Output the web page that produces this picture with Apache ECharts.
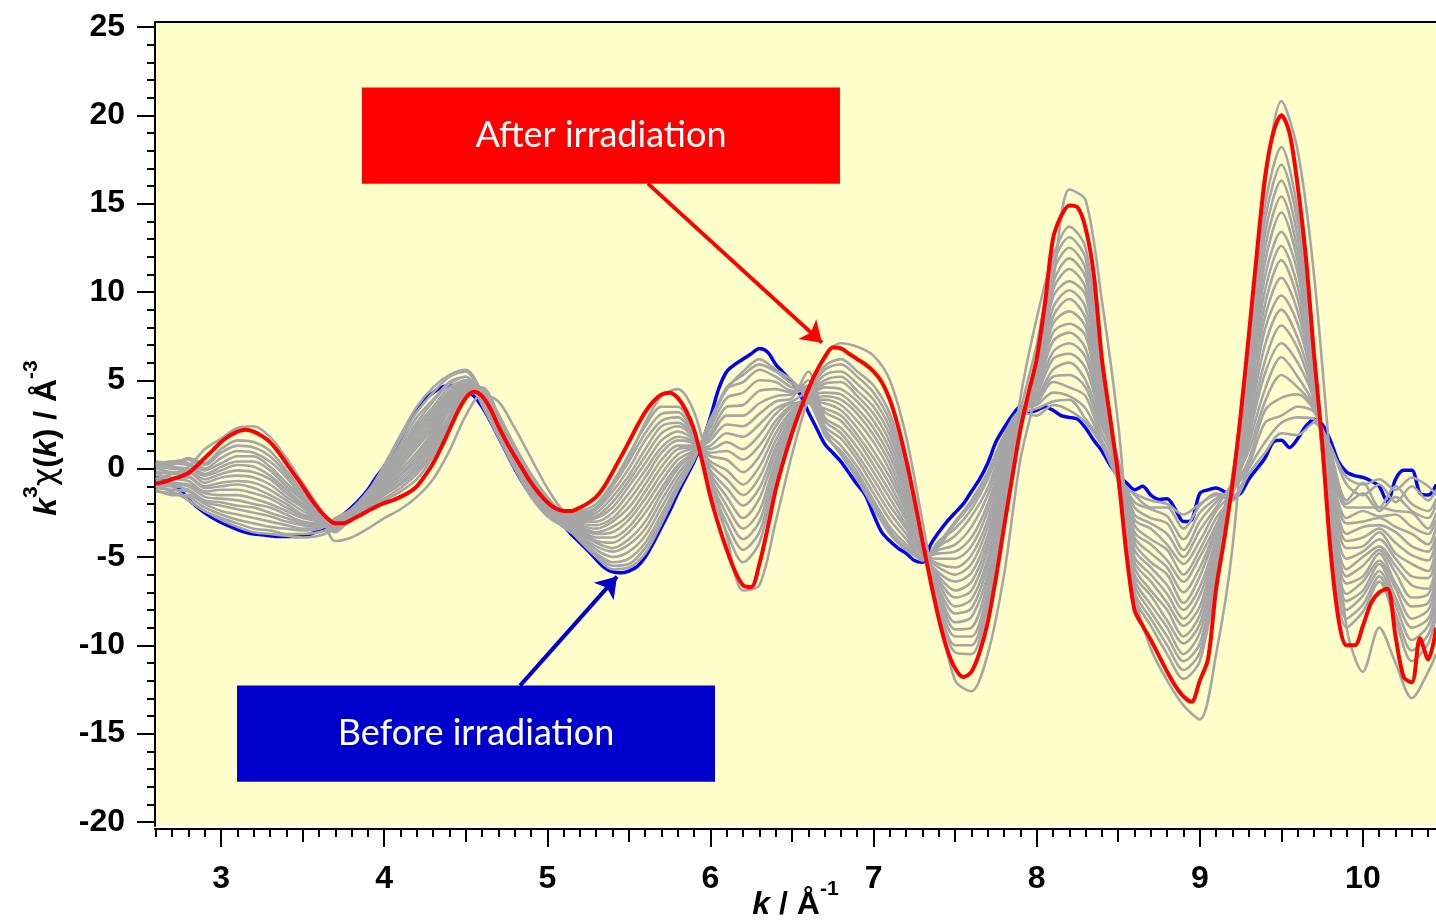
<!DOCTYPE html>
<html>
<head>
<meta charset="utf-8">
<script src="https://cdn.jsdelivr.net/npm/echarts@6/dist/echarts.min.js"></script>
<style>
  html, body { margin: 0; padding: 0; background: #fff; }
  #chart { width: 1436px; height: 921px; }
</style>
</head>
<body>
<div id="chart"></div>
<script>
// k grid used for the two highlighted spectra
const kLine = [
  2.60, 2.65, 2.70, 2.75, 2.80, 2.85, 2.90, 2.95, 3.00, 3.05,
  3.10, 3.15, 3.20, 3.25, 3.30, 3.35, 3.40, 3.45, 3.50, 3.55,
  3.60, 3.65, 3.70, 3.75, 3.80, 3.85, 3.90, 3.95, 4.00, 4.05,
  4.10, 4.15, 4.20, 4.25, 4.30, 4.35, 4.40, 4.45, 4.50, 4.55,
  4.60, 4.65, 4.70, 4.75, 4.80, 4.85, 4.90, 4.95, 5.00, 5.05,
  5.10, 5.15, 5.20, 5.25, 5.30, 5.35, 5.40, 5.45, 5.50, 5.55,
  5.60, 5.65, 5.70, 5.75, 5.80, 5.85, 5.90, 5.95, 6.00, 6.05,
  6.10, 6.15, 6.20, 6.25, 6.30, 6.35, 6.40, 6.45, 6.50, 6.55,
  6.60, 6.65, 6.70, 6.75, 6.80, 6.85, 6.90, 6.95, 7.00, 7.05,
  7.10, 7.15, 7.20, 7.25, 7.30, 7.35, 7.40, 7.45, 7.50, 7.55,
  7.60, 7.65, 7.70, 7.75, 7.80, 7.85, 7.90, 7.95, 8.00, 8.05,
  8.10, 8.15, 8.20, 8.25, 8.30, 8.35, 8.40, 8.45, 8.50, 8.55,
  8.60, 8.65, 8.70, 8.75, 8.80, 8.85, 8.90, 8.95, 9.00, 9.05,
  9.10, 9.15, 9.20, 9.25, 9.30, 9.35, 9.40, 9.45, 9.50, 9.55,
  9.60, 9.65, 9.70, 9.75, 9.80, 9.85, 9.90, 9.95, 10.00, 10.05,
  10.10, 10.15, 10.20, 10.25, 10.30, 10.35, 10.40, 10.45
];

// before irradiation (blue)
const beforeIrr = [
  -0.5, -0.65, -0.85, -1.2, -1.75, -2.15, -2.5, -2.8, -3.05, -3.25,
  -3.45, -3.6, -3.7, -3.75, -3.8, -3.85, -3.85, -3.85, -3.8, -3.7,
  -3.5, -3.25, -2.95, -2.6, -2.2, -1.75, -1.2, -0.5, 0.1, 0.8,
  1.7, 2.6, 3.3, 3.9, 4.3, 4.6, 4.7, 4.7, 4.5, 4.1,
  3.5, 2.7, 1.8, 0.9, 0.0, -0.8, -1.5, -2.1, -2.6, -2.95,
  -3.25, -3.75, -4.2, -4.65, -5.15, -5.6, -5.85, -5.9, -5.8, -5.55,
  -5.0, -4.2, -3.3, -2.4, -1.4, -0.5, 0.4, 1.5, 2.9, 4.5,
  5.5, 5.9, 6.2, 6.5, 6.8, 6.6, 5.9, 5.4, 4.9, 4.2,
  3.2, 2.3, 1.4, 0.9, 0.4, -0.25, -0.9, -1.5, -2.6, -3.6,
  -4.1, -4.5, -4.8, -5.2, -5.3, -4.3, -3.6, -3.0, -2.5, -2.0,
  -1.3, -0.6, 0.3, 1.5, 2.3, 3.0, 3.5, 3.2, 3.3, 3.5,
  3.3, 3.0, 2.9, 2.8, 2.3, 1.6, 1.0, 0.2, -0.4, -0.8,
  -1.2, -1.0, -1.5, -1.75, -1.7, -2.3, -3.0, -2.9, -1.4, -1.2,
  -1.1, -1.3, -1.6, -1.4, -0.6, 0.0, 0.6, 1.5, 1.6, 1.2,
  1.7, 2.4, 2.8, 2.5, 1.6, 0.4, -0.2, -0.4, -0.5, -0.7,
  -1.0, -1.9, -0.6, -0.1, -0.1, -1.4, -1.5, -0.9
];

// after irradiation (red)
const afterIrr = [
  -0.85, -0.75, -0.6, -0.45, -0.25, 0.15, 0.6, 1.05, 1.5, 1.85,
  2.1, 2.2, 2.1, 1.85, 1.5, 0.95, 0.3, -0.35, -1.0, -1.7,
  -2.3, -2.8, -3.1, -3.1, -2.9, -2.65, -2.4, -2.15, -1.95, -1.8,
  -1.6, -1.35, -1.0, -0.4, 0.3, 1.2, 2.2, 3.2, 4.0, 4.35,
  4.1, 3.4, 2.4, 1.5, 0.7, -0.05, -0.8, -1.4, -1.9, -2.25,
  -2.4, -2.4, -2.2, -1.95, -1.6, -1.0, -0.2, 0.65, 1.5, 2.4,
  3.2, 3.8, 4.2, 4.3, 4.0, 3.3, 2.2, 0.4, -1.6, -3.2,
  -4.6, -5.8, -6.6, -6.7, -5.4, -3.4, -1.2, 0.5, 2.0, 3.3,
  4.5, 5.5, 6.3, 6.85, 6.8, 6.5, 6.2, 5.9, 5.5, 4.9,
  3.9, 2.4, 0.5, -1.7, -4.1, -6.4, -8.5, -10.2, -11.3, -11.8,
  -11.5, -10.4, -8.7, -6.2, -3.3, -0.5, 2.2, 4.3, 6.2, 9.3,
  13.0, 14.3, 14.9, 14.8, 13.6, 11.0, 6.2, 2.9, -0.4, -4.8,
  -8.0, -8.9, -9.7, -10.6, -11.5, -12.3, -12.9, -13.2, -12.0, -10.8,
  -6.8, -4.0, -0.9, 3.0, 7.5, 12.2, 16.5, 19.0, 20.0, 19.0,
  16.0, 12.0, 6.5, 1.5, -4.5, -8.5, -10.0, -10.0, -8.9, -7.6,
  -7.0, -6.8, -9.5, -11.8, -12.1, -9.6, -10.8, -9.0
];

// k grid for the intermediate (grey) spectra
const kGray = [
  2.6, 2.7, 2.8, 2.9, 3.0, 3.1, 3.2, 3.3, 3.4, 3.5,
  3.6, 3.7, 3.8, 3.9, 4.0, 4.1, 4.2, 4.3, 4.4, 4.5,
  4.6, 4.7, 4.8, 4.9, 5.0, 5.1, 5.2, 5.3, 5.4, 5.5,
  5.6, 5.7, 5.8, 5.9, 6.0, 6.1, 6.2, 6.3, 6.4, 6.5,
  6.6, 6.7, 6.8, 6.9, 7.0, 7.1, 7.2, 7.3, 7.4, 7.5,
  7.6, 7.7, 7.8, 7.9, 8.0, 8.1, 8.2, 8.3, 8.4, 8.5,
  8.6, 8.7, 8.8, 8.9, 9.0, 9.1, 9.2, 9.3, 9.4, 9.5,
  9.6, 9.7, 9.8, 9.9, 10.0, 10.1, 10.2, 10.3, 10.4, 10.45
];

const gray00 = [
  -0.7, -1.0, -1.8, -2.4, -2.9, -3.3, -3.6, -3.7, -3.8, -3.9,
  -3.8, -3.4, -2.5, -1.4, 0.2, 1.9, 3.5, 4.6, 5.3, 5.6,
  4.3, 2.3, 0.3, -1.2, -2.4, -3.1, -4.1, -5.0, -5.7, -5.6,
  -4.8, -3.1, -1.2, 0.5, 2.8, 4.5, 5.5, 6.2, 5.6, 5.0,
  3.9, 2.0, 0.8, -0.6, -2.2, -3.7, -4.6, -5.1, -4.2, -3.0,
  -1.8, -0.2, 1.9, 3.2, 3.0, 3.6, 3.3, 2.6, 1.3, -0.6,
  -1.4, -1.8, -2.0, -2.6, -2.0, -1.5, -1.8, -0.3, 0.9, 2.0,
  1.9, 2.6, 1.2, -0.5, -0.9, -0.6, -1.2, -0.5, -1.0, -1.5
];
const gray01 = [
  -1.0, -1.3, -1.8, -2.4, -2.8, -3.1, -3.4, -3.5, -3.7, -3.7,
  -3.6, -3.3, -2.4, -1.3, 0.1, 1.7, 3.2, 4.3, 5.2, 5.5,
  4.0, 2.1, 0.1, -1.4, -2.6, -3.2, -4.0, -4.9, -5.5, -5.4,
  -4.5, -2.9, -1.0, 0.5, 2.7, 4.6, 5.3, 5.9, 5.5, 4.8,
  4.2, 2.1, 0.8, -0.4, -2.0, -3.5, -4.5, -5.0, -4.4, -3.1,
  -2.0, -0.5, 1.8, 3.1, 3.4, 3.8, 3.9, 2.8, 1.5, -0.5,
  -1.5, -2.2, -2.2, -3.4, -2.1, -1.4, -1.6, 0.0, 1.5, 2.6,
  2.9, 2.8, 1.3, -0.9, -1.5, -0.9, -1.9, -1.0, -1.8, -1.2
];
const gray02 = [
  -1.3, -1.4, -1.6, -2.2, -2.6, -2.9, -3.1, -3.3, -3.4, -3.5,
  -3.4, -3.0, -2.3, -1.3, -0.1, 1.4, 2.9, 3.9, 4.9, 5.2,
  3.6, 1.8, 0.0, -1.6, -2.7, -3.3, -4.0, -4.8, -5.3, -5.1,
  -4.2, -2.6, -0.9, 0.6, 2.5, 4.5, 4.9, 5.6, 5.2, 4.6,
  4.5, 1.9, 1.0, -0.2, -1.8, -3.3, -4.3, -5.2, -4.1, -3.4,
  -2.3, -0.6, 1.7, 3.4, 3.6, 4.3, 4.1, 3.4, 1.5, -0.2,
  -1.9, -2.3, -2.7, -4.0, -2.5, -1.7, -1.2, 0.2, 2.6, 3.0,
  3.5, 3.2, 1.0, -1.8, -0.8, -2.2, -1.0, -2.0, -2.4, -1.7
];
const gray03 = [
  -1.2, -1.5, -1.5, -2.0, -2.4, -2.6, -2.8, -3.0, -3.2, -3.4,
  -3.4, -2.8, -2.3, -1.3, -0.2, 1.2, 2.6, 3.8, 4.8, 5.2,
  3.8, 1.9, 0.1, -1.5, -2.6, -3.3, -3.9, -4.6, -5.0, -4.7,
  -3.8, -2.2, -0.6, 0.7, 2.3, 4.0, 4.3, 5.0, 4.9, 4.4,
  4.7, 2.2, 1.3, 0.1, -1.4, -2.9, -4.0, -5.2, -4.4, -3.8,
  -2.7, -1.1, 1.5, 3.2, 3.7, 4.9, 4.6, 4.1, 1.6, -0.1,
  -2.2, -2.8, -3.1, -4.6, -3.0, -1.9, -1.1, 0.5, 3.3, 4.0,
  4.2, 3.3, 0.8, -2.0, -1.4, -2.4, -1.6, -2.4, -2.8, -2.0
];
const gray04 = [
  -1.1, -1.2, -1.3, -1.9, -2.1, -2.3, -2.5, -2.7, -3.0, -3.2,
  -3.3, -2.9, -2.3, -1.4, -0.3, 1.0, 2.4, 3.5, 4.6, 5.0,
  3.8, 2.0, 0.2, -1.3, -2.5, -3.2, -3.8, -4.4, -4.7, -4.3,
  -3.4, -1.8, -0.3, 0.8, 2.0, 3.5, 3.6, 4.4, 4.5, 4.3,
  5.0, 2.4, 1.7, 0.5, -1.0, -2.5, -3.7, -5.1, -4.6, -4.3,
  -3.3, -1.5, 1.2, 3.2, 3.9, 5.2, 5.3, 4.6, 2.0, 0.1,
  -2.6, -3.1, -3.7, -5.0, -3.5, -2.2, -0.8, 1.0, 3.8, 5.3,
  4.6, 3.5, 0.4, -2.2, -2.2, -2.2, -2.4, -2.5, -3.4, -2.5
];
const gray05 = [
  -1.0, -1.0, -1.2, -1.8, -1.9, -2.1, -2.2, -2.5, -2.8, -3.1,
  -3.2, -3.0, -2.3, -1.5, -0.4, 0.9, 2.2, 3.3, 4.4, 5.0,
  3.9, 2.1, 0.4, -1.2, -2.4, -3.1, -3.7, -4.2, -4.5, -4.0,
  -3.0, -1.4, 0.0, 0.9, 1.8, 3.0, 3.0, 3.7, 4.1, 4.2,
  4.6, 2.7, 2.0, 0.8, -0.6, -2.1, -3.4, -5.0, -4.8, -4.7,
  -3.9, -2.0, 0.9, 3.3, 4.0, 5.6, 6.0, 5.0, 2.4, 0.3,
  -2.9, -3.4, -4.3, -5.4, -4.1, -2.4, -1.3, 1.4, 4.5, 6.3,
  5.2, 3.6, 0.0, -2.8, -2.4, -2.7, -2.6, -3.3, -3.7, -2.9
];
const gray06 = [
  -0.9, -0.9, -1.0, -1.6, -1.7, -1.8, -2.0, -2.2, -2.6, -3.0,
  -3.1, -3.1, -2.4, -1.6, -0.5, 0.7, 2.0, 3.1, 4.3, 4.9,
  4.0, 2.3, 0.5, -1.1, -2.3, -3.1, -3.6, -4.1, -4.2, -3.6,
  -2.5, -1.1, 0.2, 0.9, 1.6, 2.5, 2.4, 3.1, 3.8, 4.0,
  5.5, 2.9, 2.3, 1.2, -0.2, -1.7, -3.2, -4.9, -5.1, -5.1,
  -4.4, -2.4, 0.6, 3.1, 4.2, 6.2, 6.5, 5.7, 2.6, 0.3,
  -3.2, -4.0, -4.6, -6.0, -4.6, -2.8, -1.5, 1.8, 5.4, 7.1,
  6.0, 3.9, -0.2, -3.1, -3.0, -2.8, -3.3, -3.7, -4.3, -3.3
];
const gray07 = [
  -0.6, -0.8, -0.9, -1.4, -1.5, -1.5, -1.7, -2.0, -2.4, -2.8,
  -3.0, -3.4, -2.5, -1.6, -0.6, 0.6, 1.8, 2.9, 4.2, 4.9,
  4.1, 2.5, 0.6, -1.0, -2.2, -3.0, -3.5, -3.9, -3.9, -3.3,
  -2.1, -0.7, 0.5, 1.0, 1.3, 2.0, 1.8, 2.5, 3.4, 3.8,
  4.3, 3.2, 2.7, 1.6, 0.2, -1.3, -2.9, -4.8, -5.4, -5.6,
  -4.9, -2.9, 0.3, 3.0, 4.4, 6.6, 7.1, 6.3, 2.8, 0.4,
  -3.6, -4.3, -5.2, -6.4, -5.0, -3.2, -1.1, 2.2, 6.1, 8.1,
  6.8, 4.0, -0.4, -3.7, -3.3, -3.2, -3.6, -4.4, -4.7, -3.8
];
const gray08 = [
  -0.5, -0.6, -0.7, -1.3, -1.2, -1.2, -1.4, -1.7, -2.2, -2.7,
  -3.0, -3.3, -2.5, -1.7, -0.7, 0.4, 1.6, 2.7, 4.1, 4.8,
  4.3, 2.6, 0.8, -0.8, -2.1, -2.9, -3.4, -3.7, -3.6, -2.9,
  -1.7, -0.3, 0.8, 1.1, 1.1, 1.5, 1.1, 1.9, 3.1, 3.7,
  3.7, 3.4, 3.0, 1.9, 0.6, -0.9, -2.7, -4.8, -5.6, -6.0,
  -5.4, -3.3, 0.1, 3.0, 4.5, 7.2, 7.7, 6.8, 3.1, 0.5,
  -3.9, -4.8, -5.6, -7.0, -5.6, -3.4, -1.0, 2.6, 7.0, 9.0,
  7.4, 4.3, -0.8, -4.1, -3.9, -3.4, -4.2, -4.9, -5.2, -4.1
];
const gray09 = [
  -0.3, -0.5, -0.5, -1.1, -1.0, -0.9, -1.1, -1.5, -2.0, -2.6,
  -2.9, -3.4, -2.5, -1.8, -0.8, 0.3, 1.4, 2.5, 4.0, 4.8,
  4.4, 2.8, 0.9, -0.6, -1.9, -2.8, -3.3, -3.6, -3.3, -2.6,
  -1.3, 0.1, 1.1, 1.2, 0.9, 1.0, 0.5, 1.3, 2.7, 3.6,
  3.8, 3.7, 3.3, 2.3, 1.0, -0.5, -2.4, -4.8, -5.9, -6.4,
  -5.9, -3.8, -0.2, 2.8, 4.7, 7.7, 8.2, 7.5, 3.3, 0.4,
  -4.2, -5.3, -6.0, -7.6, -6.1, -3.6, -0.8, 3.0, 7.9, 9.8,
  8.2, 4.6, -1.1, -4.5, -4.4, -3.6, -4.8, -5.4, -5.8, -4.4
];
const gray10 = [
  -0.2, -0.3, -0.4, -1.0, -0.8, -0.7, -0.8, -1.2, -1.8, -2.4,
  -2.9, -3.5, -2.6, -1.8, -0.9, 0.1, 1.2, 2.3, 3.8, 4.7,
  4.5, 2.9, 1.1, -0.5, -1.8, -2.7, -3.2, -3.4, -3.0, -2.2,
  -0.9, 0.5, 1.3, 1.3, 0.7, 0.5, -0.2, 0.7, 2.4, 3.5,
  3.9, 3.9, 3.6, 2.7, 1.5, -0.1, -2.2, -4.7, -6.1, -6.9,
  -6.4, -4.2, -0.5, 2.9, 4.8, 8.2, 8.9, 8.0, 3.6, 0.2,
  -4.6, -5.6, -6.6, -8.0, -6.7, -4.0, -0.6, 3.5, 8.6, 10.8,
  8.9, 4.7, -1.5, -5.1, -4.7, -4.0, -5.1, -6.1, -6.2, -5.0
];
const gray11 = [
  0.0, -0.2, -0.2, -0.8, -0.5, -0.4, -0.5, -0.9, -1.6, -2.2,
  -2.9, -3.3, -2.6, -1.9, -1.0, -0.1, 0.9, 2.1, 3.6, 4.7,
  4.5, 3.0, 1.2, -0.4, -1.7, -2.6, -3.1, -3.2, -2.8, -1.8,
  -0.5, 0.9, 1.6, 1.4, 0.4, -0.1, -0.9, 0.1, 2.0, 3.3,
  3.9, 4.1, 3.9, 3.1, 1.9, 0.3, -1.9, -4.6, -6.3, -7.3,
  -6.9, -4.6, -0.8, 2.8, 4.9, 8.6, 9.6, 8.5, 3.8, -0.2,
  -5.0, -6.0, -7.1, -8.5, -7.2, -4.3, -1.0, 3.9, 9.3, 11.8,
  9.6, 4.8, -1.8, -5.7, -5.0, -4.4, -5.5, -6.6, -6.8, -5.3
];
const gray12 = [
  0.1, 0.0, -0.1, -0.6, -0.3, -0.1, -0.2, -0.6, -1.4, -2.1,
  -2.8, -3.2, -2.6, -1.9, -1.1, -0.3, 0.7, 1.9, 3.5, 4.6,
  4.6, 3.1, 1.3, -0.3, -1.6, -2.6, -3.0, -3.0, -2.5, -1.4,
  -0.1, 1.2, 1.8, 1.5, 0.2, -0.6, -1.5, -0.5, 1.6, 3.2,
  4.0, 4.3, 4.2, 3.4, 2.3, 0.7, -1.6, -4.6, -6.5, -7.8,
  -7.4, -5.1, -1.1, 2.7, 5.0, 9.1, 10.1, 9.1, 4.1, 0.0,
  -5.3, -6.4, -7.6, -8.9, -7.8, -4.5, -1.3, 4.3, 10.1, 12.6,
  10.3, 5.0, -2.1, -6.1, -5.5, -4.6, -5.9, -7.3, -7.1, -5.8
];
const gray13 = [
  0.3, 0.1, 0.0, -0.4, -0.1, 0.2, 0.1, -0.4, -1.2, -2.0,
  -2.7, -3.1, -2.6, -2.0, -1.2, -0.4, 0.5, 1.7, 3.3, 4.6,
  4.5, 2.9, 1.2, -0.5, -1.7, -2.6, -2.9, -2.8, -2.2, -1.0,
  0.3, 1.6, 2.1, 1.6, -0.1, -1.1, -2.1, -1.1, 1.2, 3.0,
  4.0, 4.6, 4.5, 3.8, 2.7, 1.1, -1.4, -4.5, -6.8, -8.2,
  -7.9, -5.5, -1.4, 2.5, 5.2, 9.7, 10.6, 9.8, 4.3, 0.1,
  -5.6, -6.9, -8.0, -9.5, -8.3, -4.7, -1.2, 4.7, 10.9, 13.4,
  11.1, 5.1, -2.5, -6.5, -6.1, -4.8, -6.5, -7.8, -7.6, -6.1
];
const gray14 = [
  0.4, 0.3, 0.2, -0.3, 0.1, 0.4, 0.4, -0.1, -1.0, -1.8,
  -2.7, -3.0, -2.7, -2.0, -1.3, -0.6, 0.3, 1.5, 3.0, 4.5,
  4.4, 2.8, 1.0, -0.6, -1.8, -2.6, -2.8, -2.7, -1.9, -0.7,
  0.7, 2.0, 2.4, 1.7, -0.3, -1.6, -2.8, -1.7, 0.9, 2.9,
  4.1, 4.8, 4.9, 4.1, 3.1, 1.5, -1.1, -4.5, -7.0, -8.7,
  -8.4, -6.0, -1.6, 2.6, 5.3, 10.1, 11.3, 10.2, 4.6, -0.3,
  -6.0, -7.2, -8.6, -9.9, -8.8, -5.1, -0.9, 5.1, 11.7, 14.5,
  11.7, 5.4, -2.7, -7.1, -6.4, -5.2, -6.8, -8.5, -8.0, -6.6
];
const gray15 = [
  0.3, 0.4, 0.3, -0.1, 0.3, 0.7, 0.7, 0.1, -0.8, -1.7,
  -2.6, -3.3, -2.8, -2.1, -1.4, -0.8, 0.1, 1.3, 2.8, 4.4,
  4.4, 2.7, 0.9, -0.6, -1.8, -2.5, -2.7, -2.5, -1.6, -0.4,
  1.1, 2.4, 2.6, 1.8, -0.5, -2.1, -3.4, -2.4, 0.5, 2.7,
  4.2, 5.0, 5.2, 4.4, 3.5, 1.9, -0.8, -4.4, -7.2, -9.1,
  -9.0, -6.4, -1.9, 2.7, 5.4, 10.5, 11.9, 10.8, 4.9, -0.5,
  -6.3, -7.7, -9.0, -10.5, -9.3, -5.5, -0.7, 5.4, 12.5, 15.4,
  12.3, 5.7, -3.0, -7.5, -6.9, -5.4, -7.3, -9.0, -8.5, -7.0
];
const gray16 = [
  0.2, 0.4, 0.5, 0.0, 0.6, 1.0, 0.9, 0.4, -0.5, -1.6,
  -2.5, -3.6, -2.8, -2.2, -1.5, -0.9, -0.1, 1.1, 2.7, 4.4,
  4.3, 2.6, 0.9, -0.7, -1.9, -2.5, -2.6, -2.3, -1.3, 0.0,
  1.6, 2.7, 2.9, 1.8, -0.7, -2.6, -4.0, -3.0, 0.2, 2.6,
  4.2, 5.3, 5.5, 4.8, 3.9, 2.3, -0.6, -4.3, -7.5, -9.5,
  -9.5, -6.9, -2.2, 2.5, 5.6, 11.1, 12.5, 11.3, 5.2, -0.6,
  -6.6, -8.1, -9.5, -10.9, -9.9, -5.7, -0.5, 5.9, 13.3, 16.3,
  13.1, 5.8, -3.3, -8.0, -7.2, -5.8, -7.7, -9.7, -8.9, -7.4
];
const gray17 = [
  0.2, 0.3, 0.5, 0.2, 0.9, 1.3, 1.2, 0.7, -0.3, -1.4,
  -2.5, -3.4, -2.8, -2.3, -1.7, -1.1, -0.3, 0.9, 2.6, 4.3,
  4.3, 2.5, 0.8, -0.8, -2.0, -2.5, -2.5, -2.2, -1.0, 0.4,
  2.0, 3.1, 3.2, 1.9, -0.9, -3.1, -4.6, -3.6, -0.2, 2.4,
  4.3, 5.6, 5.9, 5.2, 4.3, 2.7, -0.3, -4.2, -7.8, -10.0,
  -10.0, -7.3, -2.4, 3.2, 7.0, 11.6, 13.1, 11.9, 5.5, -0.8,
  -7.0, -8.5, -10.0, -11.4, -10.4, -6.0, -0.5, 6.3, 14.1, 17.2,
  13.9, 6.0, -3.6, -8.5, -7.7, -6.1, -8.2, -10.3, -9.4, -7.8
];
const gray18 = [
  0.1, 0.2, 0.6, 0.3, 1.1, 1.6, 1.5, 1.0, -0.1, -1.3,
  -2.4, -3.3, -2.8, -2.3, -1.8, -1.3, -0.6, 0.7, 2.5, 4.2,
  4.3, 2.5, 0.8, -0.8, -2.0, -2.5, -2.4, -2.0, -0.8, 0.8,
  2.4, 3.5, 3.5, 2.0, -1.2, -3.6, -5.3, -4.2, -0.5, 2.3,
  4.4, 5.8, 6.2, 5.5, 4.7, 3.1, 0.0, -4.2, -8.0, -10.4,
  -10.5, -7.8, -2.7, 4.0, 8.5, 12.0, 13.7, 12.5, 5.7, -0.9,
  -7.3, -8.9, -10.5, -11.9, -10.9, -6.2, -0.4, 6.7, 14.9, 18.2,
  14.6, 6.1, -3.9, -9.0, -8.1, -6.4, -8.6, -10.9, -9.9, -8.2
];
const gray19 = [
  -0.6, -0.3, 0.1, 1.1, 1.7, 2.3, 2.4, 1.8, 0.6, -0.8,
  -2.2, -4.1, -3.9, -3.4, -2.8, -2.3, -1.6, -0.6, 1.0, 3.0,
  4.2, 3.8, 2.3, 0.6, -1.1, -2.4, -2.7, -2.3, -1.0, 0.6,
  2.6, 4.1, 4.5, 3.2, -0.2, -3.8, -6.9, -6.6, -3.0, 0.8,
  4.0, 6.4, 7.1, 6.9, 6.4, 5.0, 1.8, -3.0, -8.0, -12.0,
  -12.6, -10.5, -6.0, 0.5, 4.5, 10.5, 15.8, 15.2, 9.5, 2.5,
  -7.0, -10.2, -12.0, -13.4, -14.2, -10.5, -4.5, 6.0, 16.0, 20.8,
  18.0, 11.0, 0.5, -9.0, -11.5, -9.0, -11.0, -13.0, -11.5, -10.5
];
const grayRuns = [gray00, gray01, gray02, gray03, gray04, gray05, gray06,
                  gray07, gray08, gray09, gray10, gray11, gray12, gray13,
                  gray14, gray15, gray16, gray17, gray18, gray19];

// tick labels
const xTickLabels = [3, 4, 5, 6, 7, 8, 9, 10];
const yTickLabels = [-20, -15, -10, -5, 0, 5, 10, 15, 20, 25];

const X_MIN = 2.595, X_MAX = 10.448;
const Y_MIN = -20.23, Y_MAX = 25.28;

// minor tick positions
const xMinor = [];
for (let i = 26; i <= 104; i++) xMinor.push(i / 10);
const xHalf = [];
for (let i = 5; i <= 20; i++) xHalf.push(i / 2);
const yMinor = [];
for (let v = -20; v <= 25; v++) yMinor.push(v);

const pairs = (xs, ys) => ys.map((v, i) => [xs[i], v]);

const tickFont = {
  fontFamily: 'Liberation Sans, Arial, sans-serif',
  fontWeight: 'bold',
  fontSize: 32,
  color: '#000'
};
// axis titles: main glyphs sit on the bottom of a tall line, superscripts on top
const nameRich = {
  i: { fontFamily: 'Liberation Sans', fontWeight: 'bold', fontStyle: 'italic', fontSize: 32, lineHeight: 42, verticalAlign: 'bottom', color: '#000' },
  b: { fontFamily: 'Liberation Sans', fontWeight: 'bold', fontSize: 32, lineHeight: 42, verticalAlign: 'bottom', color: '#000' },
  c: { fontFamily: 'DejaVu Sans', fontSize: 32, lineHeight: 42, verticalAlign: 'bottom', color: '#000' },
  s: { fontFamily: 'Liberation Sans', fontWeight: 'bold', fontSize: 21, lineHeight: 42, verticalAlign: 'top', color: '#000' }
};

const series = [];
series.push({
  name: 'Before irradiation',
  type: 'line',
  data: pairs(kLine, beforeIrr),
  showSymbol: false,
  smooth: 0.3,
  silent: true,
  lineStyle: { color: '#0000FF', width: 3.5 }
});
grayRuns.forEach((run, idx) => {
  series.push({
    name: 'run' + idx,
    type: 'line',
    data: pairs(kGray, run),
    showSymbol: false,
    smooth: 0.3,
    silent: true,
    lineStyle: { color: '#A6A6A6', width: 2.6 }
  });
});
series.push({
  name: 'After irradiation',
  type: 'line',
  data: pairs(kLine, afterIrr),
  showSymbol: false,
  smooth: 0.3,
  silent: true,
  lineStyle: { color: '#FF0000', width: 4 },
  markArea: {
    silent: true,
    label: {
      show: true,
      position: 'inside',
      color: '#fff',
      fontFamily: 'Lato, Open Sans, sans-serif',
      fontSize: 36,
      formatter: '{b}'
    },
    data: [
      [{ name: 'After irradiation', xAxis: 3.864, yAxis: 21.57, itemStyle: { color: '#FF0000', opacity: 1 } },
       { xAxis: 6.794, yAxis: 16.13 }],
      [{ name: 'Before irradiation', xAxis: 3.098, yAxis: -12.28, itemStyle: { color: '#0000CC', opacity: 1 } },
       { xAxis: 6.028, yAxis: -17.72 }]
    ]
  },
  markLine: {
    silent: true,
    symbol: ['none', 'arrow'],
    symbolSize: 20,
    label: { show: false },
    data: [
      [{ coord: [5.617, 16.13], lineStyle: { color: '#FF0000', width: 4, type: 'solid' }, itemStyle: { color: '#FF0000' } },
       { coord: [6.684, 7.13] }],
      [{ coord: [4.833, -12.28], lineStyle: { color: '#0000CC', width: 4, type: 'solid' }, itemStyle: { color: '#0000CC' } },
       { coord: [5.427, -6.11] }]
    ]
  }
});

const noZero = { onZero: false };
const chart = echarts.init(document.getElementById('chart'));
chart.setOption({
  animation: false,
  backgroundColor: '#fff',
  grid: {
    left: 155, right: 0, top: 22, bottom: 95,
    show: true, backgroundColor: '#FFFFCC', borderWidth: 0,
    outerBoundsMode: 'none'
  },
  xAxis: [
    {
      type: 'value', min: X_MIN, max: X_MAX, position: 'bottom', offset: 3,
      axisLine: Object.assign({ show: true, lineStyle: { color: '#000', width: 2 } }, noZero),
      axisTick: { show: true, customValues: xTickLabels, length: 18, lineStyle: { color: '#000', width: 2 } },
      axisLabel: Object.assign({ customValues: xTickLabels, margin: 34 }, tickFont),
      splitLine: { show: false },
      name: '{i|k}{b| / Å}{s|-1}',
      nameLocation: 'middle',
      nameGap: 50,
      nameMoveOverlap: false,
      nameTextStyle: { rich: nameRich }
    },
    {
      type: 'value', min: X_MIN, max: X_MAX, position: 'bottom', offset: 3,
      axisLine: Object.assign({ show: false }, noZero),
      axisTick: { show: true, customValues: xMinor, length: 8, lineStyle: { color: '#000', width: 2 } },
      axisLabel: { show: false },
      splitLine: { show: false }
    },
    {
      type: 'value', min: X_MIN, max: X_MAX, position: 'bottom', offset: 3,
      axisLine: Object.assign({ show: false }, noZero),
      axisTick: { show: true, customValues: xHalf, length: 13, lineStyle: { color: '#000', width: 2 } },
      axisLabel: { show: false },
      splitLine: { show: false }
    },
    {
      type: 'value', min: X_MIN, max: X_MAX, position: 'top',
      axisLine: Object.assign({ show: true, lineStyle: { color: '#000', width: 2 } }, noZero),
      axisTick: { show: false },
      axisLabel: { show: false },
      splitLine: { show: false }
    }
  ],
  yAxis: [
    {
      type: 'value', min: Y_MIN, max: Y_MAX, position: 'left',
      axisLine: Object.assign({ show: true, lineStyle: { color: '#000', width: 2 } }, noZero),
      axisTick: { show: true, customValues: yTickLabels, length: 18, lineStyle: { color: '#000', width: 2 } },
      axisLabel: Object.assign({ customValues: yTickLabels, margin: 30 }, tickFont),
      splitLine: { show: false },
      name: '{i|k}{s|3}{c|χ}{b|(}{i|k}{b|) / Å}{s|-3}',
      nameLocation: 'middle',
      nameRotate: 90,
      nameGap: 92,
      nameMoveOverlap: false,
      nameTextStyle: { rich: nameRich, padding: [0, 28, 0, 0] }
    },
    {
      type: 'value', min: Y_MIN, max: Y_MAX, position: 'left',
      axisLine: Object.assign({ show: false }, noZero),
      axisTick: { show: true, customValues: yMinor, length: 8, lineStyle: { color: '#000', width: 2 } },
      axisLabel: { show: false },
      splitLine: { show: false }
    }
  ],
  series: series
});
</script>
</body>
</html>
